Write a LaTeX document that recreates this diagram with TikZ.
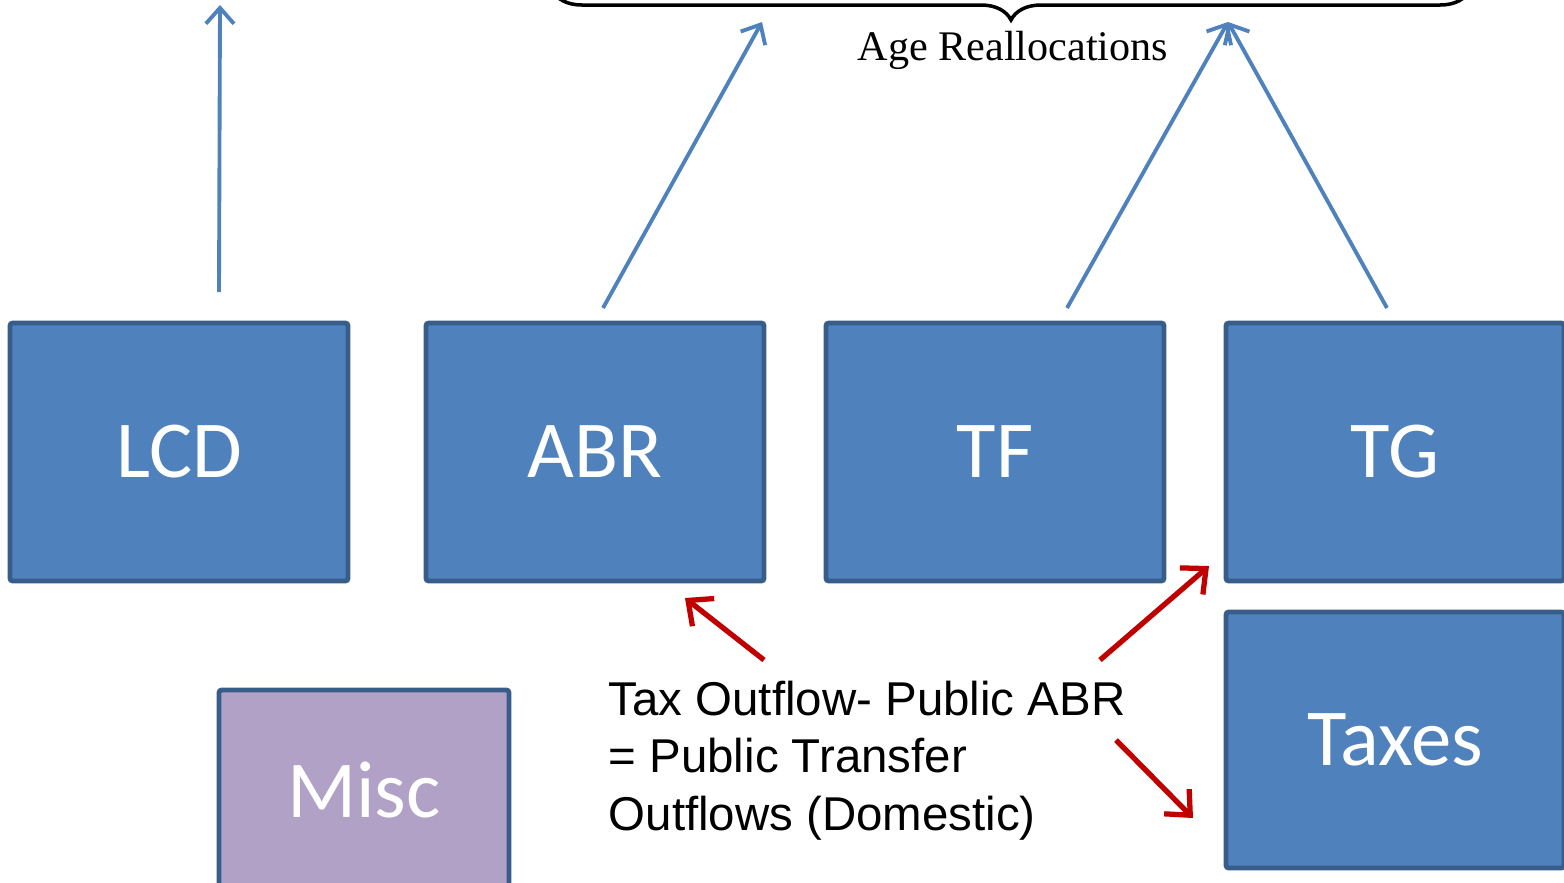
\documentclass[tikz,border=0pt]{standalone}
\usepackage{fontspec}
\setmainfont{Liberation Serif}
\newfontfamily\boxfont{Carlito}
\newfontfamily\notefont{Liberation Sans}
\usetikzlibrary{arrows.meta, positioning, calc, decorations.pathreplacing}
\definecolor{accblue}{HTML}{4F81BD}
\definecolor{accblueborder}{HTML}{385D8A}
\definecolor{misclilac}{HTML}{B2A1C7}
\definecolor{flowred}{HTML}{C00000}

\begin{document}
\begin{tikzpicture}[
      accbox/.style={draw=accblueborder, line width=1.4pt, fill=accblue,
        rounded corners=0.8pt, text=white, minimum width=3.38cm,
        minimum height=2.58cm, inner sep=0pt, outer sep=0pt,
        font=\boxfont\fontsize{23}{28}\selectfont},
      upflow/.style={-{Straight Barb[length=4.5pt, width=8pt]}, draw=accblue,
        line width=1.1pt},
      taxflow/.style={-{Straight Barb[length=5.5pt, width=10pt]}, draw=flowred,
        line width=1.5pt}
    ]
      \useasboundingbox (0,0) rectangle (15.64,-8.82);
      \clip (0,0) rectangle (15.64,-8.82);
      % accounts row
      \node[accbox, anchor=north west] (lcd) at (0.10,-3.23) {LCD};
      \node[accbox, right=0.78cm of lcd] (abr) {ABR};
      \node[accbox, right=0.62cm of abr] (tf) {TF};
      \node[accbox, right=0.62cm of tf] (tg) {TG};
      \node[accbox, below=0.31cm of tg, minimum height=2.56cm] (taxes) {Taxes};
      \node[accbox, fill=misclilac, anchor=north west, minimum width=2.90cm,
        minimum height=2.0cm] (misc) at (2.19,-6.90) {Misc};
      % brace at the top
      \coordinate (braceleft) at (5.52,0.10);
      \coordinate (braceright) at (14.70,0.10);
      \draw[line width=1pt, decorate,
        decoration={brace, mirror, amplitude=0.3cm}] (braceleft) -- (braceright);
      \node (age) at (10.13,-0.50) {\fontsize{12}{14}\selectfont Age Reallocations};
      % upward flows
      \coordinate (lcdend) at (2.20,-0.05);
      \coordinate (abrend) at (7.62,-0.22);
      \coordinate (tgend) at (12.28,-0.22);
      \draw[upflow] ($(lcd.north)+(0.40,0.31)$) -- (lcdend);
      \draw[upflow] ($(abr.north)+(0.08,0.15)$) -- (abrend);
      \draw[upflow] ($(tf.north)+(0.72,0.15)$) -- (tgend);
      \draw[upflow] ($(tg.north)+(-0.08,0.15)$) -- (tgend);
      % public transfer note
      \node[anchor=north west, align=left, inner sep=0pt,
        font=\notefont\fontsize{13.5}{16.4}\selectfont] (note) at (6.08,-6.80)
        {Tax Outflow- Public ABR\\= Public Transfer\\Outflows (Domestic)};
      \draw[taxflow] ($(note.north west)+(1.56,0.20)$)
        -- ($(abr.south)+(0.90,-0.17)$);
      \draw[taxflow] ($(note.north west)+(4.92,0.20)$)
        -- ($(tg.south west)+(-0.17,0.15)$);
      \draw[taxflow] ($(note.north west)+(5.08,-0.60)$)
        -- ($(taxes.west)+(-0.33,-0.78)$);
    \end{tikzpicture}
\end{document}
